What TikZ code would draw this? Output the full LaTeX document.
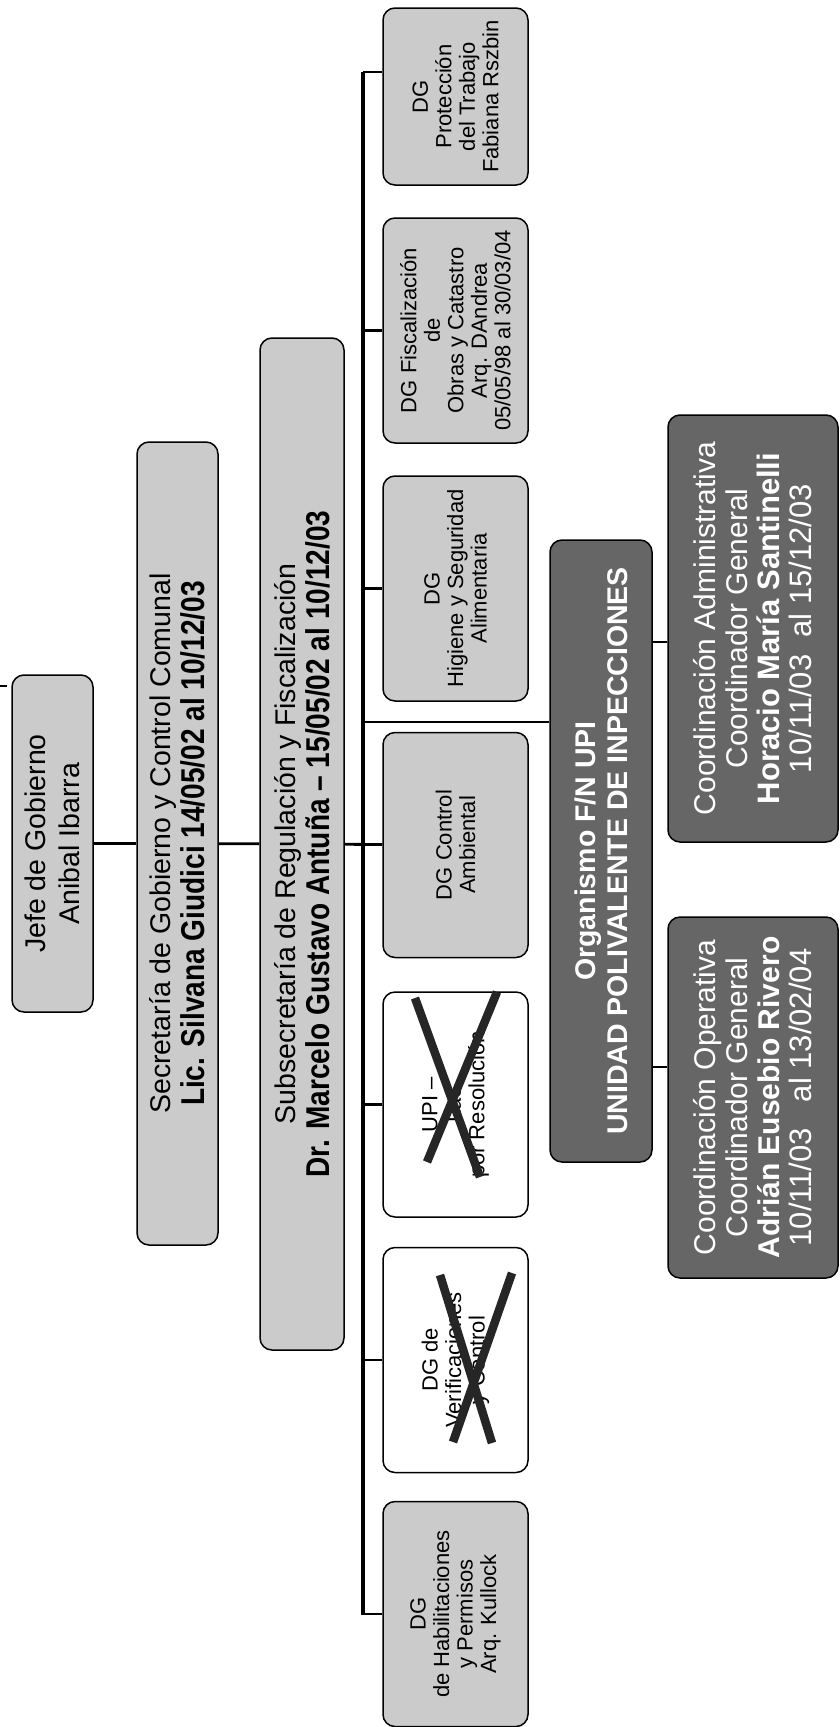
\documentclass[tikz,border=0pt]{standalone}
\usepackage{fontspec}
\setmainfont{Liberation Sans}
\newfontfamily\narrowbold{Liberation Sans Bold}[FakeStretch=0.85, Ligatures=TeX]
\definecolor{boxgrey}{HTML}{CBCBCB}
\definecolor{darkgrey}{HTML}{666666}
\definecolor{crossgrey}{HTML}{262626}

\begin{document}
\begin{tikzpicture}[x=1pt, y=-1pt,
    box/.style = {rectangle, rounded corners=12pt, draw=black, line width=1.5pt, rotate=90, align=center, inner sep=1pt},
    lite/.style = {box, fill=boxgrey},
    blank/.style = {box, fill=white},
    dark/.style = {box, fill=darkgrey, text=white},
    big/.style = {font=\fontsize{28.5}{34}\selectfont},
    small/.style = {font=\fontsize{22}{23.5}\selectfont, minimum width=225pt, minimum height=145pt},
    coord/.style = {font=\fontsize{30}{32}\selectfont, minimum height=170pt},
    link/.style = {line width=2.8pt},
    cross/.style = {line width=8.5pt, crossgrey}]
            \useasboundingbox (0,0) rectangle (839,1727);

            % Nodes
            \node[lite, big, minimum width=337pt, minimum height=81pt] (jefe) at (52.5,843.5) {Jefe de Gobierno\\Anibal Ibarra};
            \node[lite, big, minimum width=803pt, minimum height=81pt] (secre) at (177.5,843.5) {Secretaría de Gobierno y Control Comunal\\{\narrowbold\fontsize{33}{38}\selectfont Lic. Silvana Giudici 14/05/02 al 10/12/03}};
            \node[lite, big, minimum width=1012pt, minimum height=84pt] (subse) at (302,844) {Subsecretaría de Regulación y Fiscalización\\{\narrowbold\fontsize{33}{38}\selectfont Dr. Marcelo Gustavo Antuña – 15/05/02 al 10/12/03}};

            \node[lite, small, minimum width=177pt] (prot) at (455.5,96.5) {DG\\Protección\\del Trabajo\\Fabiana Rszbin};
            \node[lite, small] (fisc) at (455.5,330.5) {DG Fiscalización\\de\\Obras y Catastro\\Arq. DAndrea\\05/05/98 al 30/03/04};
            \node[lite, small] (hig) at (455.5,588.5) {DG\\Higiene y Seguridad\\Alimentaria};
            \node[lite, small] (amb) at (455.5,845) {DG Control\\Ambiental};
            \node[blank, small] (upi) at (455.5,1104.5) {UPI –\\Las\\por Resolución};
            \node[blank, small] (verif) at (455.5,1360) {DG de\\Verificaciones\\y Control};
            \node[lite, small] (habil) at (455.5,1614) {DG\\de Habilitaciones\\y Permisos\\Arq. Kullock};

            \node[dark, minimum width=622pt, minimum height=102pt, font=\bfseries\fontsize{28.5}{32}\selectfont] (org) at (601,851) {Organismo F/N UPI\\UNIDAD POLIVALENTE DE INPECCIONES};
            \node[dark, coord, minimum width=427pt] (cadm) at (753,628.5) {Coordinación Administrativa\\Coordinador General\\{\bfseries\fontsize{31}{34}\selectfont Horacio María Santinelli}\\{\fontsize{31}{34}\selectfont 10/11/03 \ al 15/12/03}};
            \node[dark, coord, minimum width=361pt] (cope) at (753,1097.5) {Coordinación Operativa\\Coordinador General\\{\bfseries\fontsize{30}{34}\selectfont Adrián Eusebio Rivero}\\{\fontsize{31}{34}\selectfont 10/11/03 \ \ al 13/02/04}};

            % Lines
            \coordinate (stub) at (0,686);
            \coordinate (busT) at (363,72);
            \coordinate (busB) at (363,1615);
            \coordinate (orgIn) at (363,722);
            \draw[link] (stub) -- ++(7,0);
            \draw[link] (jefe) -- (secre);
            \draw[link] (secre) -- (subse);
            \draw[link] (subse) -- (amb);
            \draw[link, line width=3.6pt] (busT) -- (busB);
            \draw[link] (busT) -- (busT -| prot.north);
            \foreach \dg in {fisc, hig, upi, verif, habil}
                \draw[link] (busT |- \dg) -- (\dg);
            \draw[link] (orgIn) -- (orgIn -| org.north);
            \draw[link] (org.south |- 0,642) -- (cadm.north |- 0,642);
            \draw[link] (org.south |- 0,1067) -- (cope.north |- 0,1067);

            % Crossed-out boxes
            \draw[cross] (415,998) -- (480,1177);
            \draw[cross] (497,992) -- (427,1162);
            \draw[cross] (440,1275) -- (492,1443);
            \draw[cross] (512,1273) -- (453,1442);
        \end{tikzpicture}
\end{document}
